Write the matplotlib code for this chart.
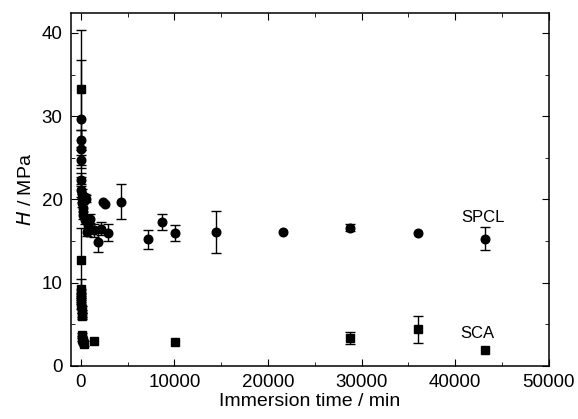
import matplotlib
matplotlib.use("Agg")
import matplotlib.pyplot as plt
from matplotlib.ticker import MultipleLocator

plt.rcParams['font.family'] = ['Liberation Sans', 'DejaVu Sans']

nan = float('nan')  # no error bar measured

# SPCL (circles): time / min, hardness / MPa, error
spcl_t = [5, 10, 15, 20, 30, 45, 60, 90, 120, 180, 250, 430, 530, 430, 610, 780,
          960, 1440, 1800, 2160, 2400, 2600, 2880, 4320, 7200, 8640, 10080,
          14400, 21600, 28800, 36000, 43200]
spcl_h = [29.7, 27.2, 26.1, 24.7, 22.4, 21.1, 20.6, 20.2, 19.6, 19.0, 18.1, 20.3, 20.1, 17.5, 16.1, 16.9,
          17.7, 16.3, 14.9, 16.5, 19.7, 19.5, 16.0, 19.7, 15.2, 17.3, 16.0,
          16.1, 16.1, 16.6, 16.0, 15.3]
spcl_e = [7.0, 1.2, 2.3, 0.6, 0.8, 0.8, 0.6, 0.5, 0.5, 0.5, 0.5, 0.4, 0.4, 0.5, 0.5, 0.6,
          0.5, 0.8, 1.2, 0.8, nan, nan, 1.0, 2.1, 1.15, 0.95, 0.95,
          2.5, nan, 0.4, nan, 1.35]

# SCA (squares)
sca_t = [5, 10, 15, 20, 30, 40, 50, 60, 80, 100, 60, 120, 240, 360, 1440, 10080, 28800, 36000, 43200]
sca_h = [33.3, 12.7, 9.3, 8.8, 8.3, 7.8, 7.3, 6.8, 6.3, 6.0, 3.7, 3.3, 3.0, 2.7, 3.0, 2.9, 3.4, 4.4, 1.9]
sca_e = [7.0, 3.9, 1.1, 0.4, 0.4, 0.4, 0.4, 0.4, 0.4, 0.4, 0.3, 0.3, 0.3, 0.3, nan, nan, 0.7, 1.6, nan]

fig = plt.figure(figsize=(5.78, 4.19), dpi=100)
ax = fig.add_axes([0.1228, 0.1265, 0.827, 0.8425])

ax.errorbar(spcl_t, spcl_h, yerr=spcl_e, fmt='o', color='black', ms=6.2,
            capsize=3.5, elinewidth=1, capthick=1)
ax.errorbar(sca_t, sca_h, yerr=sca_e, fmt='s', color='black', ms=6,
            capsize=3.5, elinewidth=1, capthick=1)

ax.text(43000, 17.8, "SPCL", ha='center', va='center', fontsize=12)
ax.text(42400, 3.9, "SCA", ha='center', va='center', fontsize=12)

ax.set_xlim(-1070, 50050)
ax.set_ylim(0, 42.4)
ax.xaxis.set_major_locator(MultipleLocator(10000))
ax.xaxis.set_minor_locator(MultipleLocator(5000))
ax.yaxis.set_major_locator(MultipleLocator(10))
ax.yaxis.set_minor_locator(MultipleLocator(5))
ax.tick_params(which='both', direction='in', top=True, right=True, labelsize=13.5)
ax.tick_params(which='major', length=5, pad=6)
ax.tick_params(which='minor', length=3)
for s in ax.spines.values():
    s.set_linewidth(1.1)

ax.set_xlabel("Immersion time / min", fontsize=14, labelpad=1)
ax.set_ylabel("$\\it{H}$ / MPa", fontsize=14, labelpad=5)

plt.savefig("out.png", dpi=100)
plt.close()
